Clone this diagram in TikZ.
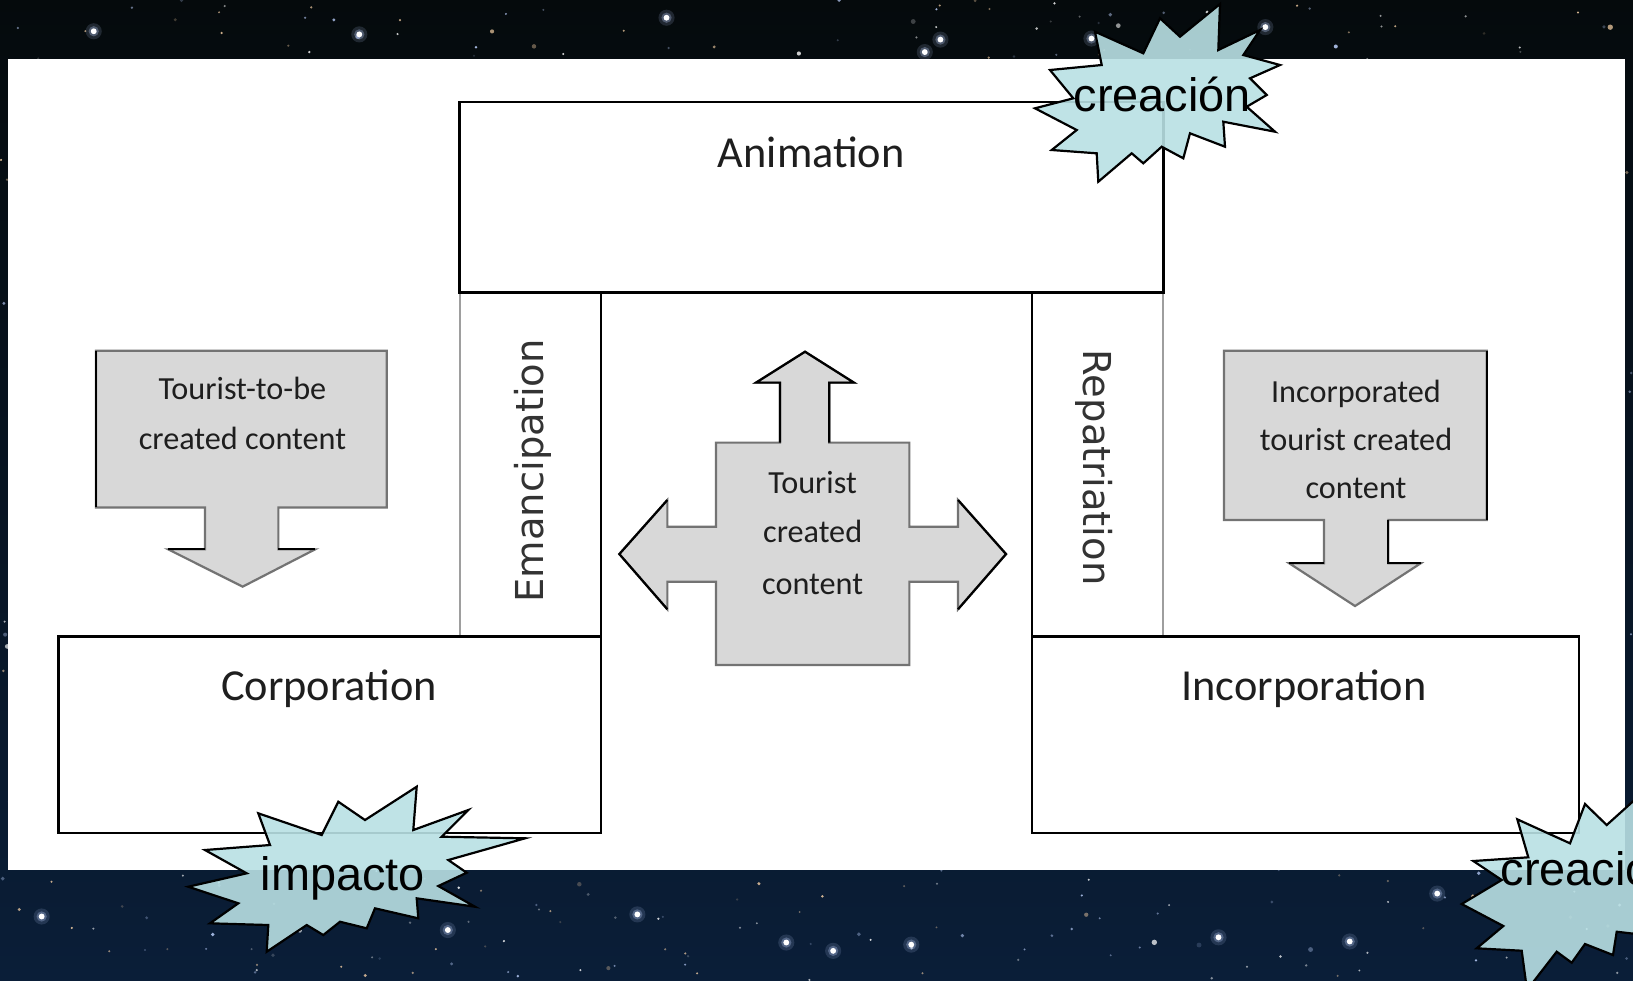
\documentclass[tikz,border=0pt]{standalone}
\usepackage{fontspec}
\setmainfont{Carlito}
\newfontfamily\vfont{DejaVu Sans}
\newfontfamily\bfont{Liberation Sans}
\definecolor{bgtop}{RGB}{5,10,12}
\definecolor{bgbot}{RGB}{10,30,56}
\definecolor{calloutgray}{RGB}{216,216,216}
\definecolor{burstcyan}{RGB}{185,224,228}
\definecolor{labtext}{RGB}{30,30,30}
\definecolor{starA}{RGB}{255,255,255}
\definecolor{starB}{RGB}{190,210,255}
\definecolor{starC}{RGB}{255,215,170}
\begin{document}
\begin{tikzpicture}[x=0.01cm,y=-0.01cm,
  frame/.style={draw=black,line width=0.7pt},
  thinline/.style={draw=black!38,line width=0.6pt},
  callout/.style={fill=calloutgray,draw=black!55,line width=0.6pt,line join=miter},
  darkedge/.style={draw=black,line width=0.6pt},
  burst/.style={fill=burstcyan,fill opacity=0.9,draw=black,line width=0.6pt,line join=miter},
  lab/.style={font=\fontsize{12.1pt}{14pt}\selectfont,text=labtext,inner sep=0pt,anchor=base},
  small/.style={font=\fontsize{8.8pt}{10pt}\selectfont,text=labtext,inner sep=0pt,anchor=base},
  vert/.style={font=\vfont\fontsize{10.5pt}{12pt}\selectfont,text=black!80,inner sep=0pt,anchor=base},
  btxt/.style={font=\bfont\fontsize{12.8pt}{14pt}\selectfont,text=black,inner sep=0pt,anchor=base west}]
\useasboundingbox (0,0) rectangle (1568,941);
\clip (0,0) rectangle (1568,941);
% starry background
\shade[top color=bgtop,bottom color=bgbot] (0,0) rectangle (1568,941);
\pgfmathsetseed{4242}
\foreach \i in {1,...,1100}{
  \pgfmathsetmacro\sx{rnd*1568}
  \pgfmathsetmacro\sy{rnd*941}
  \pgfmathsetmacro\sr{0.3+0.55*rnd*rnd*rnd}
  \pgfmathsetmacro\so{0.15+0.7*rnd}
  \pgfmathtruncatemacro\sc{int(rnd*3)}
  \ifcase\sc\relax
    \fill[starA,opacity=\so] (\sx,\sy) circle[radius=\sr pt];
  \or
    \fill[starB,opacity=\so] (\sx,\sy) circle[radius=\sr pt];
  \else
    \fill[starC,opacity=\so] (\sx,\sy) circle[radius=\sr pt];
  \fi
}
\foreach \px/\py in {640/17,903/38,888/50,345/33,1048/37,875/907,800/913,1215/26,755/905,430/893,1380/858,1170/900,612/878,1296/904,40/880,90/30}{
  \fill[starB,opacity=0.15] (\px,\py) circle[radius=2.2pt];
  \fill[starB,opacity=0.3] (\px,\py) circle[radius=1.4pt];
  \fill[white] (\px,\py) circle[radius=0.8pt];
}
% white panel
\fill[white] (8,57) rectangle (1560,835);
% columns
\draw[thinline] (442,281) -- (442,611);
\draw[thinline] (1117,281) -- (1117,611);
\draw[frame] (577,281) -- (577,611);
\draw[frame] (991,281) -- (991,611);
% main boxes
\draw[frame] (441,98) rectangle (1117,281);
\draw[frame] (56,611) rectangle (577,800);
\draw[frame] (991,611) rectangle (1516,800);
% left callout
\filldraw[callout] (92.2,336.7) -- (371.3,336.7) -- (371.3,487.2) -- (267.3,487.2) -- (267.3,527.5) -- (302.5,527.5) -- (233,563.3) -- (161.6,527.5) -- (196.8,527.5) -- (196.8,487.2) -- (92.2,487.2) -- cycle;
\draw[darkedge] (92.2,336.7) -- (92.2,487.2);
\draw[darkedge] (161.6,527.5) -- (196.8,527.5);
\draw[darkedge] (267.3,527.5) -- (302.5,527.5);
% right callout
\filldraw[callout] (1175.3,336.7) -- (1427.5,336.7) -- (1427.5,499.3) -- (1333.1,499.3) -- (1333.1,540.9) -- (1364.1,540.9) -- (1301.1,581.9) -- (1238,540.9) -- (1271.3,540.9) -- (1271.3,499.3) -- (1175.3,499.3) -- cycle;
\draw[darkedge] (1427.5,336.7) -- (1427.5,499.3);
\draw[darkedge] (1333.1,499.3) -- (1333.1,540.9) -- (1364.1,540.9);
\draw[darkedge] (1238,540.9) -- (1271.3,540.9);
% centre shape
\filldraw[callout] (687.5,425) -- (749,425) -- (749,367.4) -- (725.9,367.4) -- (773,337.7) -- (820,367.4) -- (796.3,367.4) -- (796.3,425) -- (873.2,425) -- (873.2,505.7) -- (919.9,505.7) -- (919.9,480.1) -- (966,532) -- (919.9,585) -- (919.9,558.5) -- (873.2,558.5) -- (873.2,638.5) -- (687.5,638.5) -- (687.5,558.5) -- (640.8,558.5) -- (640.8,585) -- (594.7,532) -- (640.8,480.1) -- (640.8,505.7) -- (687.5,505.7) -- cycle;
\draw[darkedge] (749,425) -- (749,367.4) -- (725.9,367.4) -- (773,337.7) -- (820,367.4) -- (796.3,367.4) -- (796.3,425);
\draw[darkedge] (640.8,480.1) -- (594.7,532) -- (640.8,585);
\draw[darkedge] (919.9,480.1) -- (966,532) -- (919.9,585);
% labels
\node[lab] (anim) at (779,160.8) {Animation};
\node[lab] (corp) at (316,673) {Corporation};
\node[lab] (incorp) at (1252,673) {Incorporation};
\node[vert,rotate=90] (emanc) at (521.7,452) {Emancipation};
\node[vert,rotate=-90] (repat) at (1040.2,449) {Repatriation};
\node[small] (t1a) at (232.8,384) {Tourist-to-be};
\node[small] (t1b) at (232.8,432) {created content};
\node[small] (t2a) at (1302,386.6) {Incorporated};
\node[small] (t2b) at (1302,432.7) {tourist created};
\node[small] (t2c) at (1302,478.5) {content};
\node[small] (t3a) at (780.3,474.3) {Tourist};
\node[small] (t3b) at (780.3,521) {created};
\node[small] (t3c) at (780.3,570.4) {content};
% bursts (traced in source pixels, scaled to picture units)
\begin{scope}[scale=0.9602]
\filldraw[burst] (1095,31.7) -- (1143.3,53.3) -- (1160,18.3) -- (1180,36.7) -- (1220,4) -- (1218.3,50) -- (1260,30) -- (1243.3,55) -- (1280,65) -- (1250,78.3) -- (1266.7,95) -- (1246.7,106.7) -- (1275,131.7) -- (1223.3,121.7) -- (1225,146.7) -- (1190,133.3) -- (1183.3,158.3) -- (1161.7,146.7) -- (1143.3,163.3) -- (1131.7,153.3) -- (1098.3,181.7) -- (1096.7,153.3) -- (1051.7,150) -- (1076.7,130) -- (1035,108.3) -- (1073.3,98.3) -- (1050,70) -- (1101.7,65) -- cycle;
\filldraw[burst] (258.3,813.3) -- (321.7,835) -- (338.3,801.7) -- (365,820) -- (416.7,786.7) -- (413.3,830) -- (468.3,810) -- (441.7,836.7) -- (525,838.3) -- (448.3,860) -- (466.7,872.7) -- (438.3,886) -- (475,906.7) -- (416.7,898.3) -- (418.3,918.3) -- (375,908.3) -- (366.7,928.3) -- (340,921.7) -- (323.3,935) -- (306.7,925) -- (266.7,951.7) -- (268.3,925) -- (210,923.3) -- (238.3,903.3) -- (188.3,886.7) -- (246.7,873.3) -- (205,850) -- (270,845) -- cycle;
\filldraw[burst] (1517.3,819.3) -- (1570,843.3) -- (1585,804) -- (1606.7,825) -- (1640,795) -- (1660,830) -- (1690,860) -- (1660,885) -- (1690,920) -- (1645,935) -- (1616.7,931.7) -- (1613,955) -- (1585,944) -- (1571.7,962.7) -- (1556.7,951.7) -- (1527,990) -- (1521.7,950.7) -- (1476.7,948.3) -- (1503.3,926) -- (1461.7,904) -- (1501.7,880) -- (1473.3,861) -- (1528.3,857.3) -- cycle;
\end{scope}
\node[btxt] (cr1) at (1030.3,107.2) {creación};
\node[btxt] (imp) at (249.7,854.6) {impacto};
\node[btxt] (cr2) at (1440.3,850.7) {creación};
\end{tikzpicture}
\end{document}
